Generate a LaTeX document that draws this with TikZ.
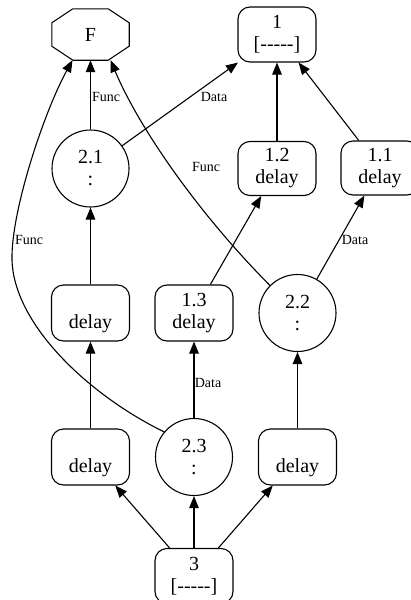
\documentclass[tikz,border=0pt]{standalone}
\usepackage{fontspec}
\setmainfont{Liberation Serif}
\usetikzlibrary{arrows.meta,calc}
\newcommand\nodefont{\fontsize{20}{22}\selectfont}
\newcommand\lblfont{\fontsize{14}{15}\selectfont}
\newcommand\dashbr{[-\kern0pt-\kern0pt-\kern0pt-\kern0pt-]}
\begin{document}
\begin{tikzpicture}[x=1pt,y=-1pt,
  every node/.style={inner sep=0pt},
  box/.style={draw, rounded corners=12pt, minimum width=78pt, minimum height=55pt, align=center, font=\nodefont, line width=1.1pt},
  circ/.style={draw, circle, minimum size=77pt, align=center, font=\nodefont, line width=1.1pt},
  lbl/.style={font=\lblfont},
  arr/.style={-{Triangle[length=12pt,width=9.5pt]}, line width=1.1pt}]
\useasboundingbox (0,0) rectangle (411,600);
% top row
\node[minimum width=77pt, minimum height=51pt, font=\nodefont] (F) at (90.5,34.5) {F};
\draw[line width=1.1pt] ([xshift=21pt]F.north west) -- ([xshift=-21pt]F.north east) -- ([yshift=-14pt]F.north east) -- ([yshift=14pt]F.south east) -- ([xshift=-21pt]F.south east) -- ([xshift=21pt]F.south west) -- ([yshift=14pt]F.south west) -- ([yshift=-14pt]F.north west) -- cycle;
\node[box] (n1) at (277,34.5) {1\\\dashbr};
% second row
\node[circ] (n21) at (90.5,168.5) {2.1\\:};
\node[box, minimum height=54pt] (n12) at (277,168.5) {1.2\\delay};
\node[box, minimum height=54pt] (n11) at (380,168) {1.1\\delay};
% third row
\node[box, minimum height=56pt] (dA) at (90.5,313) {\vphantom{1.2}\\delay};
\node[box, minimum height=56pt] (n13) at (194,313) {1.3\\delay};
\node[circ] (n22) at (297.5,313) {2.2\\:};
% fourth row
\node[box, minimum height=56pt] (dB) at (90.5,457) {\vphantom{1.2}\\delay};
\node[circ] (n23) at (194,457) {2.3\\:};
\node[box, minimum height=56pt] (dC) at (297.5,457) {\vphantom{1.2}\\delay};
% bottom
\node[box] (n3) at (194,576) {3\\\dashbr};
% edges
\draw[arr] (n21) -- (F);
\draw[arr] (n21) -- (n1);
\draw[arr] (n12) -- (n1);
\draw[arr] (n11) -- (n1);
\draw[arr] (n13) -- (n12);
\draw[arr] (n22) -- (n11);
\draw[arr] (dA) -- (n21);
\draw[arr] (n23) -- (n13);
\draw[arr] (dB) -- (dA);
\draw[arr] (dC) -- (n22);
\draw[arr] (n3) -- (dB);
\draw[arr] (n3) -- (n23);
\draw[arr] (n3) -- (dC);
\draw[arr] (n22.135) .. controls (200,215) and (140,130) .. ([xshift=20pt]F.south);
\coordinate (c23) at (12,255);
\draw[arr] (n23.140) .. controls (85,393) and (10,320) .. (c23) .. controls (13,205) and (45,110) .. ([xshift=-18pt]F.south);
% labels
\node[lbl] (lf1) at (106,97) {Func};
\node[lbl] (ld1) at (214,97) {Data};
\node[lbl] (lf2) at (206,167) {Func};
\node[lbl] (lf3) at (29,240) {Func};
\node[lbl] (ld2) at (355,240) {Data};
\node[lbl] (ld3) at (208,383) {Data};
\end{tikzpicture}
\end{document}
